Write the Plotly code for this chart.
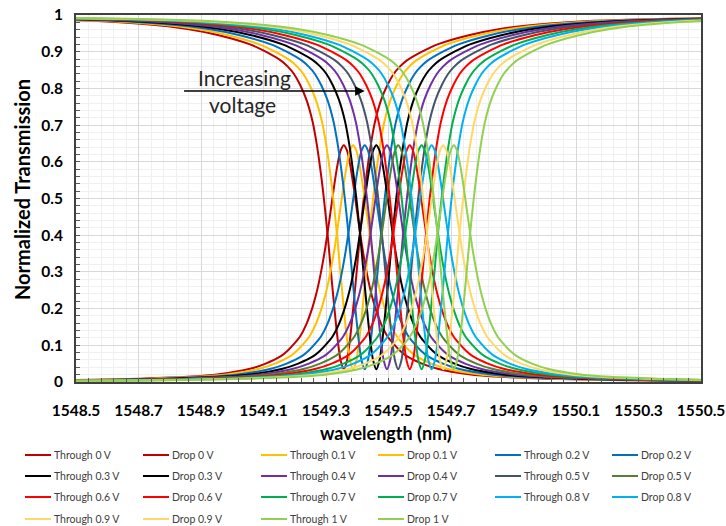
import plotly.graph_objects as go

# ---- data ----
voltages = ["0", "0.1", "0.2", "0.3", "0.4", "0.5", "0.6", "0.7", "0.8", "0.9", "1"]
# resonance centre (nm) of each voltage, read from the drop-peak tops
centers = [1549.357, 1549.387, 1549.424, 1549.461, 1549.495, 1549.531,
           1549.568, 1549.606, 1549.638, 1549.675, 1549.709]
# half profile: distance from resonance (nm) and the values
offsets = [0.0, 0.01, 0.02, 0.03, 0.04, 0.05, 0.06, 0.07, 0.08, 0.09, 0.10,
           0.12, 0.14, 0.16, 0.18, 0.20, 0.25, 0.30, 0.40, 0.50, 0.65, 0.80, 1.00, 1.30]
through_profile = [0.035, 0.058, 0.118, 0.200, 0.290, 0.385, 0.470, 0.545, 0.610, 0.665, 0.710,
                   0.770, 0.810, 0.840, 0.860, 0.875, 0.900, 0.920, 0.945, 0.962, 0.976, 0.984, 0.989, 0.993]
drop_profile = [0.645, 0.631, 0.593, 0.540, 0.479, 0.419, 0.362, 0.313, 0.270, 0.234, 0.204,
                0.157, 0.124, 0.103, 0.085, 0.071, 0.050, 0.036, 0.021, 0.014, 0.009, 0.006, 0.004, 0.003]
through_colors = ["#C00000", "#FFC000", "#0070C0", "#000000", "#7030A0", "#44546A",
                  "#FF0000", "#00B050", "#00B0F0", "#FFD966", "#92D050"]
drop_colors = ["#C00000", "#FFC000", "#0070C0", "#000000", "#7030A0", "#548235",
               "#FF0000", "#00B050", "#00B0F0", "#FFD966", "#92D050"]
x_ticks = [1548.5, 1548.7, 1548.9, 1549.1, 1549.3, 1549.5, 1549.7, 1549.9, 1550.1, 1550.3, 1550.5]
y_ticks = [0, 0.1, 0.2, 0.3, 0.4, 0.5, 0.6, 0.7, 0.8, 0.9, 1]

FONT = "Lato"
W, H = 726, 526
# plot area in reference pixels: x 76..701, y 15..382
PL, PR, PT, PB = 76, 701, 15, 382
PW, PH = PR - PL, PB - PT
ML, MT = PL, PT
MR, MB = W - ML - PW, H - MT - PH


def px_x(p):
    return (p - PL) / PW


def px_y(p):
    return (PB - p) / PH


# full symmetric profile
full_off = [-o for o in offsets[::-1]] + offsets[1:]
full_thr = through_profile[::-1] + through_profile[1:]
full_drp = drop_profile[::-1] + drop_profile[1:]

fig = go.Figure()
entries = []
for v, c, ct, cd in zip(voltages, centers, through_colors, drop_colors):
    xs = [c + o for o in full_off]
    fig.add_trace(go.Scatter(x=xs, y=full_thr, mode="lines", name=f"Through {v} V",
                             line=dict(color=ct, width=2, shape="spline", smoothing=0.8)))
    fig.add_trace(go.Scatter(x=xs, y=full_drp, mode="lines", name=f"Drop {v} V",
                             line=dict(color=cd, width=2, shape="spline", smoothing=0.8)))
    entries.append((f"Through {v} V", ct))
    entries.append((f"Drop {v} V", cd))

axis_common = dict(showline=True, mirror=True, linecolor="#404040", linewidth=2,
                   showgrid=True, gridcolor="#D9D9D9", gridwidth=1, automargin=False,
                   ticks="inside", ticklen=4, tickcolor="#595959", zeroline=False,
                   ticklabeloverflow="allow",
                   tickfont=dict(family=FONT, size=15.5, color="#000000", weight="bold"))

fig.update_xaxes(range=[1548.5, 1550.5], tickvals=x_ticks,
                 ticktext=[f"{t:.1f}" for t in x_ticks], ticklabelstandoff=13,
                 minor=dict(dtick=0.04, tick0=1548.5, showgrid=True, gridcolor="#F0F0F0",
                            ticks="inside", ticklen=4, tickcolor="#595959"),
                 **axis_common)
fig.update_yaxes(range=[0, 1], tickvals=y_ticks, ticklabelstandoff=8,
                 minor=dict(dtick=0.02, tick0=0, showgrid=True, gridcolor="#F0F0F0",
                            ticks="inside", ticklen=4, tickcolor="#595959"),
                 **axis_common)

fig.add_annotation(x=1549.424, y=0.793, ax=1548.841, ay=0.793, xref="x", yref="y",
                   axref="x", ayref="y", text="", showarrow=True, arrowhead=2,
                   arrowsize=1.2, arrowwidth=1.6, arrowcolor="#000000")
fig.add_annotation(x=1549.040, y=0.831, xref="x", yref="y", text="Increasing",
                   xanchor="center", yanchor="middle",
                   showarrow=False, font=dict(family=FONT, size=21, color="#262626"))
fig.add_annotation(x=1549.033, y=0.757, xref="x", yref="y", text="voltage",
                   xanchor="center", yanchor="middle",
                   showarrow=False, font=dict(family=FONT, size=21, color="#262626"))
fig.add_annotation(x=px_x(386), y=px_y(433), xref="paper", yref="paper",
                   text="<b>wavelength (nm)</b>", xanchor="center", yanchor="middle",
                   showarrow=False, font=dict(family=FONT, size=18, color="#000000"))
fig.add_annotation(x=px_x(22), y=px_y(190), xref="paper", yref="paper",
                   text="<b>Normalized Transmission</b>", xanchor="center", yanchor="middle",
                   textangle=-90, showarrow=False, font=dict(family=FONT, size=20, color="#000000"))

# legend drawn as line samples + text (6 columns, 4 rows)
col_x = [25, 143, 261, 378, 495, 612]
row_y = [455, 476, 497, 519]
for i, (name, col) in enumerate(entries):
    r, cidx = divmod(i, 6)
    x0, y0 = col_x[cidx], row_y[r]
    fig.add_shape(type="line", xref="paper", yref="paper",
                  x0=px_x(x0), x1=px_x(x0 + 26), y0=px_y(y0), y1=px_y(y0),
                  line=dict(color=col, width=2))
    fig.add_annotation(x=px_x(x0 + 27), y=px_y(y0), xref="paper", yref="paper",
                       text=name, xanchor="left", yanchor="middle", showarrow=False,
                       font=dict(family=FONT, size=10.5, color="#404040"))

fig.update_layout(
    width=W, height=H,
    margin=dict(l=ML, r=MR, t=MT, b=MB, autoexpand=False),
    plot_bgcolor="white", paper_bgcolor="white",
    showlegend=False,
)

fig.write_html("out.html", config={"displayModeBar": False},
               post_script="document.body.style.margin='0px';")
